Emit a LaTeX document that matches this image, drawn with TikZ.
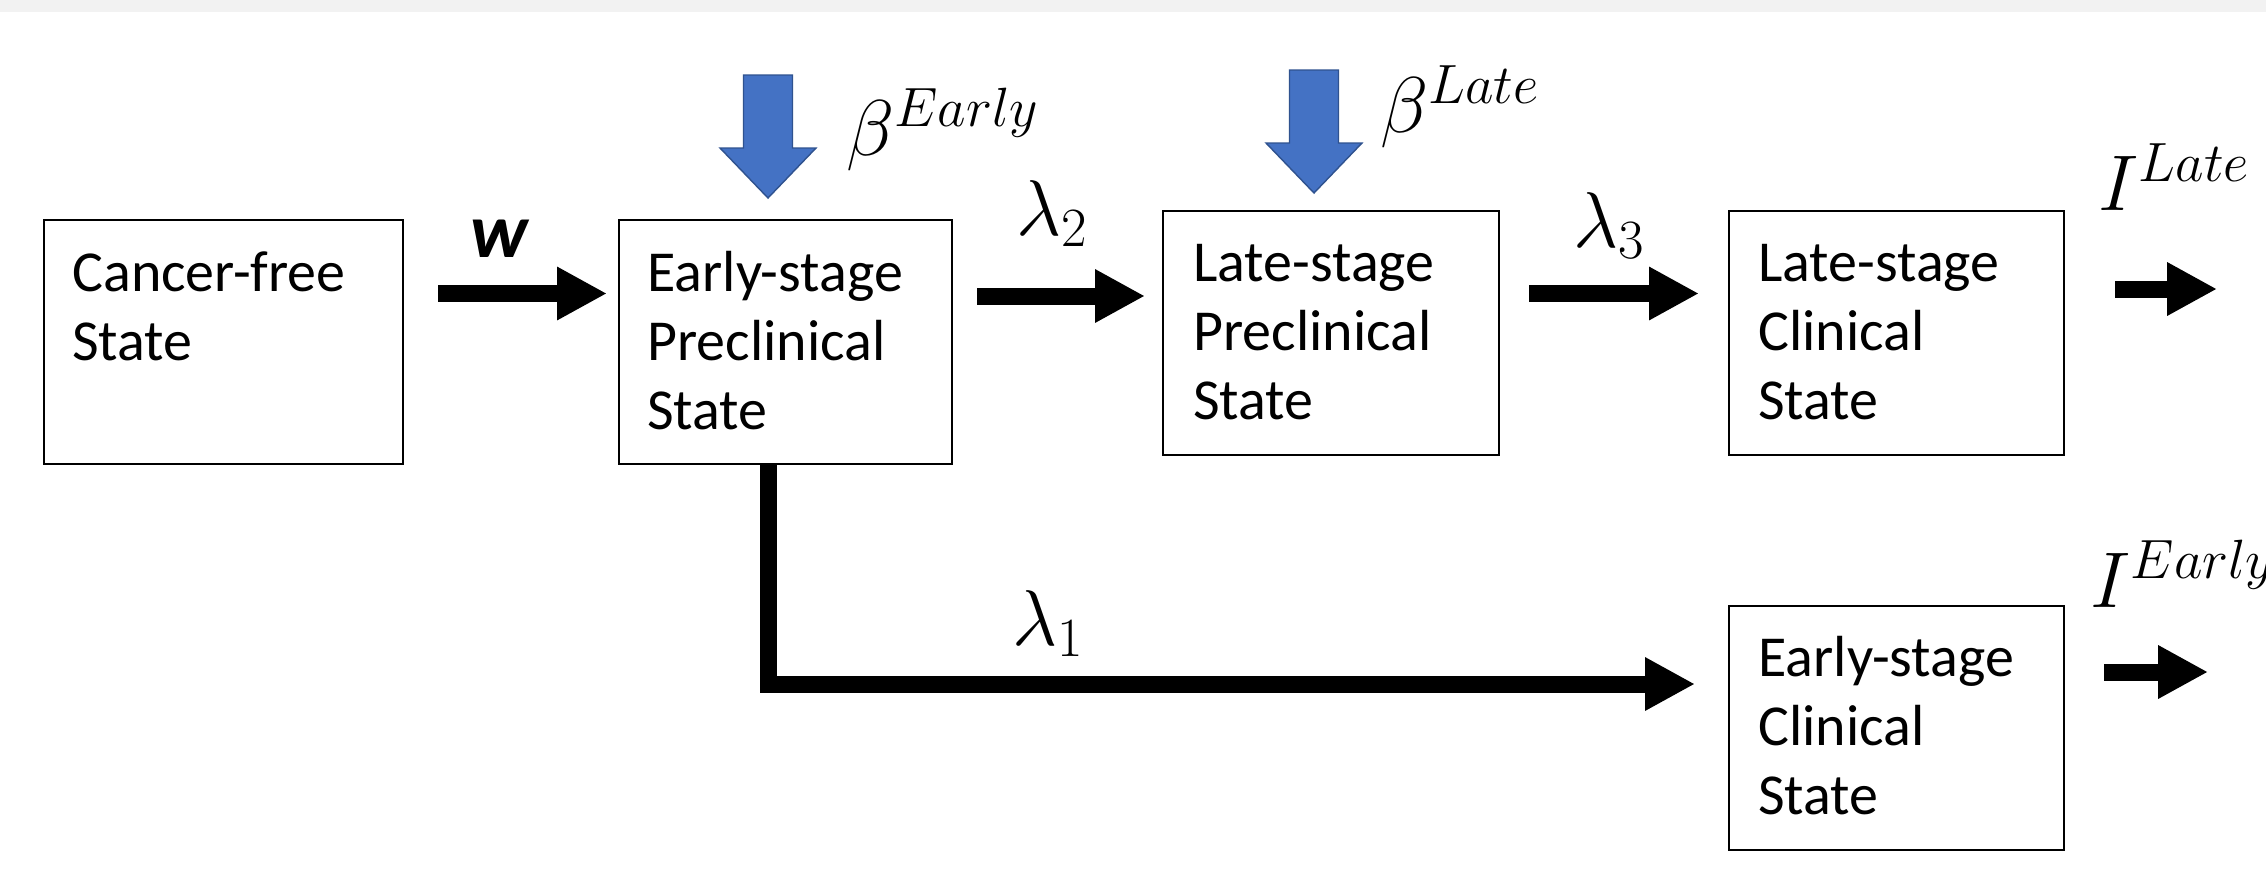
\RequirePackage{fix-cm}
\documentclass[tikz,border=0pt]{standalone}
\usepackage[no-math]{fontspec}
\setmainfont{Carlito}
\usetikzlibrary{arrows.meta,calc}
\newdimen\pxu \pxu=0.02cm
\definecolor{bandgray}{HTML}{F2F2F2}
\definecolor{arrowblue}{HTML}{4472C4}
\definecolor{arrowedge}{HTML}{2F528F}
\tikzset{
  statebox/.style={draw, line width=1.2pt, inner sep=0pt, anchor=north west,
    minimum height=244\pxu, minimum width=#1\pxu},
  % base anchor of a multi-line node sits on its last line
  boxtext/.style={anchor=base west, inner sep=0pt, align=left,
    font=\fontsize{33}{39}\selectfont},
  mathlabel/.style={anchor=base west, inner sep=0pt, font=\fontsize{45}{50}\selectfont},
  flow/.style={line width=0.34cm, line join=miter,
    -{Triangle[length=1cm, width=1cm]}},
  pics/downblock/.style={code={
    \filldraw[fill=arrowblue, draw=arrowedge, line width=0.8pt]
      (-24.5,-123) -- (24.5,-123) -- (24.5,-50) -- (48,-50) -- (0,0)
      -- (-48,-50) -- (-24.5,-50) -- cycle;}}
}
\begin{document}
\begin{tikzpicture}[x=0.02cm, y=-0.02cm]
  % page and top band
  \fill[white] (0,0) rectangle (2266,887);
  \useasboundingbox (0,0) rectangle (2266,887);
  \fill[bandgray] (0,0) rectangle (2266,12);

  % state boxes
  \node[statebox=359] (cf) at (43,219) {};
  \node[statebox=333] (ep) at (618,219) {};
  \node[statebox=336] (lp) at (1162,210) {};
  \node[statebox=335] (lc) at (1728,210) {};
  \node[statebox=335] (ec) at (1728,605) {};

  % box texts (first baseline about 73 below the box top, 68.5 per line)
  \node[boxtext] (cf-t) at ([shift={(29,141.5)}]cf.north west) {Cancer-free\\State};
  \node[boxtext] (ep-t) at ([shift={(29,210)}]ep.north west) {Early-stage\\Preclinical\\State};
  \node[boxtext] (lp-t) at ([shift={(31,209)}]lp.north west) {Late-stage\\Preclinical\\State};
  \node[boxtext] (lc-t) at ([shift={(30,209)}]lc.north west) {Late-stage\\Clinical\\State};
  \node[boxtext] (ec-t) at ([shift={(30,209)}]ec.north west) {Early-stage\\Clinical\\State};

  % transitions
  \draw[flow] ([shift={(34,74.5)}]cf.north east) -- ([shift={(-11,74.5)}]ep.north west);
  \draw[flow] ([shift={(24,77)}]ep.north east) -- ([shift={(-17,86)}]lp.north west);
  \draw[flow] ([shift={(29,83.5)}]lp.north east) -- ([shift={(-29,83.5)}]lc.north west);
  \draw[flow] ([shift={(150.5,0)}]ep.south west) |- ([shift={(-33,79)}]ec.north west);

  % outflows
  \coordinate (lc-out) at ([shift={(152,79)}]lc.north east);
  \coordinate (ec-out) at ([shift={(143,67)}]ec.north east);
  \draw[flow] ([shift={(50,79)}]lc.north east) -- (lc-out);
  \draw[flow] ([shift={(39,67)}]ec.north east) -- (ec-out);

  % screening inputs
  \pic at ([shift={(150,-21)}]ep.north west) {downblock};
  \pic at ([shift={(152,-17)}]lp.north west) {downblock};

  % rate labels
  \node[anchor=base west, inner sep=0pt, font=\fontsize{44}{50}\selectfont\bfseries\itshape]
    (w) at (470,257) {w};
  \node[mathlabel] (b-early) at (846,155) {$\beta^{Early}$};
  \node[mathlabel] (b-late) at (1380,132) {$\beta^{Late}$};
  \node[mathlabel] (l2) at (1016,235) {$\lambda_2$};
  \node[mathlabel] (l3) at (1573,247) {$\lambda_3$};
  \node[mathlabel] (l1) at (1012,645) {$\lambda_1$};
  \node[mathlabel] (i-late) at (2098,210) {$I^{Late}$};
  \node[mathlabel] (i-early) at (2090,607) {$I^{Early}$};
\end{tikzpicture}
\end{document}
